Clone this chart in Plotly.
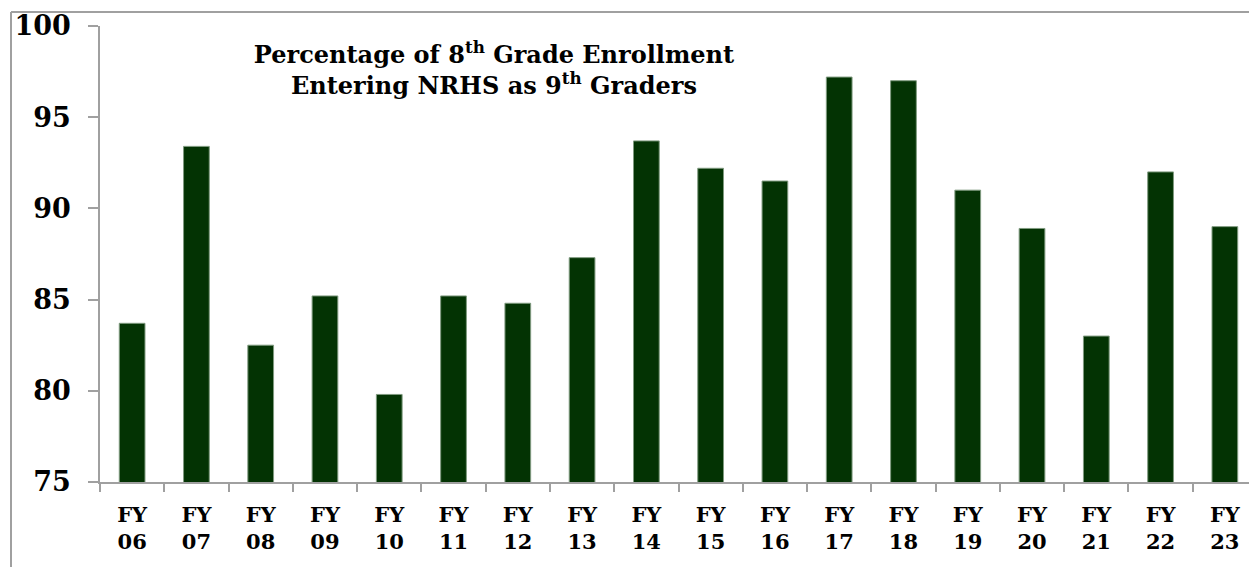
import plotly.graph_objects as go

categories = ["FY<br>06", "FY<br>07", "FY<br>08", "FY<br>09", "FY<br>10", "FY<br>11",
              "FY<br>12", "FY<br>13", "FY<br>14", "FY<br>15", "FY<br>16", "FY<br>17",
              "FY<br>18", "FY<br>19", "FY<br>20", "FY<br>21", "FY<br>22", "FY<br>23"]
values = [83.7, 93.4, 82.5, 85.2, 79.8, 85.2, 84.8, 87.3, 93.7, 92.2, 91.5, 97.2,
          97.0, 91.0, 88.9, 83.0, 92.0, 89.0]
y_ticks = [75, 80, 85, 90, 95, 100]
title_text = "Percentage of 8<sup>th</sup> Grade Enrollment<br>Entering NRHS as 9<sup>th</sup> Graders"

FONT = "DejaVu Serif"
OFF = 8  # page body margin
W, H = 1257 - OFF, 567 - OFF
ML, MR, MT, MB = 100 - OFF, 0, 26 - OFF, 567 - 482
pw = W - ML - MR
ph = H - MT - MB

fig = go.Figure(go.Bar(
    x=categories, y=values, width=0.4,
    marker=dict(color="#033303", line=dict(color="#7f9a7f", width=1)),
))

fig.update_layout(
    width=W, height=H,
    margin=dict(l=ML, r=MR, t=MT, b=MB, pad=0),
    paper_bgcolor="white", plot_bgcolor="white",
    showlegend=False,
    title=dict(text=title_text, x=(494 - OFF) / W, xanchor="center",
               y=1 - 55 / H, yanchor="top",
               font=dict(family=FONT, size=24, color="black", weight="bold")),
    xaxis=dict(type="category", tickson="boundaries", ticks="outside", ticklen=8,
               tickcolor="#a0a0a0", tickwidth=1.5, showline=True, linecolor="#a0a0a0",
               linewidth=1.5, showgrid=False, ticklabelstandoff=13,
               tickfont=dict(family=FONT, size=21, color="black", weight="bold"),
               range=[-0.5, 17.5]),
    yaxis=dict(range=[75, 100], tickvals=y_ticks, ticks="outside", ticklen=10,
               tickcolor="#a0a0a0", tickwidth=1.5, showline=True, linecolor="#a0a0a0",
               linewidth=1.5, showgrid=False, zeroline=False, ticklabelstandoff=12,
               tickfont=dict(family=FONT, size=27, color="black", weight="bold")),
)

# outer chart border (top and left visible, rest runs off the page)
bx = (11 - 100) / pw
by = 1 + (MT - 4) / ph
fig.add_shape(type="line", xref="paper", yref="paper", x0=bx, x1=1.0, y0=by, y1=by,
              line=dict(color="#a0a0a0", width=2), layer="above")
fig.add_shape(type="line", xref="paper", yref="paper", x0=bx, x1=bx, y0=-0.3, y1=by,
              line=dict(color="#a0a0a0", width=2), layer="above")

fig.write_html("out.html")
